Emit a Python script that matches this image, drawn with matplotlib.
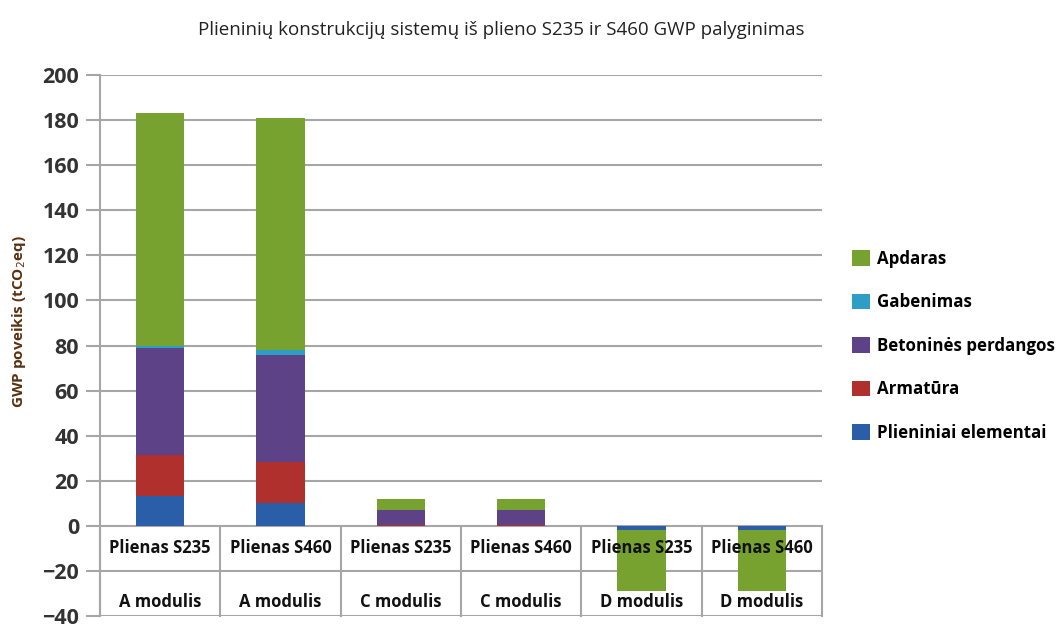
import matplotlib
matplotlib.use("Agg")
import matplotlib.pyplot as plt
import numpy as np

# Stacked GWP contributions per system and life-cycle module
modules = ["A modulis", "A modulis", "C modulis", "C modulis", "D modulis", "D modulis"]
steels = ["Plienas S235", "Plienas S460", "Plienas S235", "Plienas S460", "Plienas S235", "Plienas S460"]

plieniniai = [13.3, 10.3, 0.0, 0.0, -1.8, -1.8]
armatura = [18.2, 18.2, 0.3, 0.3, 0.0, 0.0]
betonines = [47.3, 47.3, 6.8, 6.8, 0.0, 0.0]
gabenimas = [1.2, 2.2, 0.0, 0.0, 0.0, 0.0]
apdaras = [103.0, 102.8, 4.8, 4.8, -27.0, -27.0]

series = [
    ("Plieniniai elementai", plieniniai, "#2a5ea8"),
    ("Armatūra", armatura, "#b0302e"),
    ("Betoninės perdangos", betonines, "#5d4287"),
    ("Gabenimas", gabenimas, "#2e9ec6"),
    ("Apdaras", apdaras, "#78a22f"),
]

font = ["Open Sans", "DejaVu Sans"]
plt.rcParams["font.family"] = font

fig = plt.figure(figsize=(10.61, 6.24), dpi=100)
ax = fig.add_axes([100 / 1061, 8 / 624, 722 / 1061, 541 / 624])

x = np.arange(len(steels))
pos_base = np.zeros(len(x))
neg_base = np.zeros(len(x))
handles = {}
for name, vals, color in series:
    vals = np.array(vals)
    bottom = np.where(vals >= 0, pos_base, neg_base)
    h = ax.bar(x, vals, width=0.4, bottom=bottom, color=color, zorder=2)
    handles[name] = h
    pos_base = pos_base + np.clip(vals, 0, None)
    neg_base = neg_base + np.clip(vals, None, 0)

ax.set_xlim(-0.5, len(x) - 0.5)
ax.set_ylim(-40, 200)
ax.set_yticks(np.arange(-40, 201, 20))
ax.yaxis.grid(True, color="#a6a6a6", linewidth=1.5, zorder=0)
ax.set_axisbelow(True)
ax.set_xticks([])
for s in ["top", "right", "bottom"]:
    ax.spines[s].set_visible(False)
ax.spines["left"].set_color("#a6a6a6")
ax.spines["left"].set_linewidth(1.5)
ax.tick_params(axis="y", length=10, width=1.5, color="#a6a6a6", pad=5,
               labelsize=15.5, labelcolor="#333333")
for lbl in ax.get_yticklabels():
    lbl.set_fontweight("bold")

# category table below the zero line
for b in np.arange(-0.5, len(x), 1.0):
    ax.plot([b, b], [0, -40], color="#a6a6a6", linewidth=1.5, zorder=1, clip_on=False)
for i in x:
    ax.text(i, -10, steels[i], ha="center", va="center", fontsize=12,
            fontweight="bold", color="#111111", zorder=3)
    ax.text(i, -34, modules[i], ha="center", va="center", fontsize=12,
            fontweight="bold", color="#111111", zorder=3)

ax.set_ylabel("GWP poveikis (tCO$_2$eq)", fontsize=11, fontweight="bold",
              color="#5a3010")
ax.yaxis.set_label_coords(-72 / 722, (624 - 8 - 322) / 541)

fig.text(501 / 1061, 1 - 30 / 624, "Plieninių konstrukcijų sistemų iš plieno S235 ir S460 GWP palyginimas",
         ha="center", va="center", fontsize=13.5, color="#222222")

order = ["Apdaras", "Gabenimas", "Betoninės perdangos", "Armatūra", "Plieniniai elementai"]
leg = fig.legend([handles[n] for n in order], order, loc="upper left",
                 bbox_to_anchor=(852 / 1061, 1 - 250 / 624), frameon=False,
                 borderpad=0, borderaxespad=0,
                 prop={"size": 12.2, "weight": "bold"}, handlelength=1.05,
                 handleheight=1.05, labelspacing=1.5, handletextpad=0.4)

fig.savefig("out.png", dpi=100)
